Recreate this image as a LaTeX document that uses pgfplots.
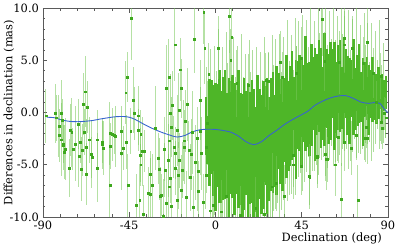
\documentclass[border=0pt]{standalone}
\usepackage{fontspec}
\setmainfont{DejaVu Serif}
\usepackage{pgfplots}
\pgfplotsset{compat=1.18}
\definecolor{barlt}{RGB}{120,200,90}
\definecolor{core}{RGB}{78,182,40}
\definecolor{dotc}{RGB}{62,168,30}
\definecolor{curve}{RGB}{55,100,205}
\definecolor{axgray}{RGB}{90,90,90}
\begin{document}
\fontsize{11.5}{13.5}\selectfont
\begin{tikzpicture}
\begin{axis}[
 width=347pt, height=210pt, scale only axis,
 xmin=-90, xmax=90, ymin=-10, ymax=10,
 xtick={-90,-45,0,45,90}, ytick={-10,-5,0,5,10},
 minor x tick num=4, minor y tick num=4,
 tick align=inside, tick pos=both,
 xticklabel pos=lower, yticklabel pos=left,
 major tick length=4.5pt, minor tick length=2.5pt,
 axis line style={axgray, line width=0.8pt},
 tick style={axgray, line width=0.6pt},
 /pgf/number format/assume math mode=true,
 yticklabel style={/pgf/number format/.cd, fixed, fixed zerofill, precision=1},
 xticklabel style={/pgf/number format/fixed},
 every axis y label/.style={at={(axis description cs:-0.125,0.5)}, rotate=90, anchor=north},
 every axis x label/.style={at={(axis description cs:1,0)}, anchor=north east, yshift=-12pt, xshift=-2pt},
 xlabel={Declination (deg)},
 ylabel={Differences in declination (mas)},
 error bars/y dir=both, error bars/y explicit,
 error bars/error mark=none,
]
% sparse points
\addplot[only marks, mark=square*, mark size=0.95pt, mark options={draw=dotc, fill=dotc},
 error bars/error bar style={line width=0.7pt, draw=barlt, opacity=0.55}]
 table[x=x, y=y, y error=e, row sep=\\] {
x y e \\
-88.5 -0.3 2.6 \\ -83.6 -0.1 2.8 \\ -83.1 -0.5 2.2 \\ -81.7 -1.3 3.0 \\ -81.4 -2.2 2.5 \\
-80.5 -0.1 3.2 \\ -80.1 -0.7 2.0 \\ -80.5 -2.6 3.5 \\ -79.6 -3.1 2.4 \\ -79.3 -3.0 1.8 \\
-78.8 -3.8 2.6 \\ -78.2 -3.5 3.0 \\ -76.2 -5.3 2.8 \\ -75.8 -1.7 2.5 \\ -75.0 -1.9 3.3 \\
-74.4 -3.5 2.0 \\ -73.1 -3.0 3.6 \\ -71.5 -1.1 2.4 \\ -71.3 -4.2 2.9 \\ -70.5 -2.8 2.0 \\
-70.1 -5.4 3.1 \\ -69.3 -3.6 2.5 \\ -68.9 0.8 3.0 \\ -68.4 -1.9 2.2 \\ -67.9 2.0 3.4 \\
-67.5 -3.3 2.7 \\ -67.5 -5.9 3.0 \\ -67.0 0.5 2.5 \\ -65.8 -2.6 2.2 \\ -64.9 -4.0 3.2 \\
-64.5 -4.3 2.0 \\ -61.5 -2.6 2.8 \\ -61.5 -5.3 3.3 \\ -59.2 -3.0 2.4 \\ -58.9 -2.8 2.0 \\
-58.6 -3.4 2.6 \\ -55.1 -2.0 3.0 \\ -55.1 -7.0 3.8 \\ -54.9 -3.2 2.2 \\ -53.7 -2.1 2.5 \\
-52.8 -2.2 1.8 \\ -52.3 -2.3 2.9 \\ -49.0 -1.8 2.4 \\ -49.0 -3.9 3.5 \\ -48.0 -3.4 2.1 \\
-46.8 1.9 3.0 \\ -46.4 -2.8 2.6 \\ -45.9 3.4 2.4 \\ -45.7 -7.0 3.0 \\ -44.2 -1.8 2.2 \\
-43.8 9.0 4.0 \\ -42.8 1.2 3.2 \\ -42.3 -0.1 2.5 \\ -41.4 -8.9 3.0 \\ -40.4 -0.3 2.8 \\
-40.2 -1.7 2.0 \\ -39.5 -8.4 3.5 \\ -39.3 -4.1 2.6 \\ -39.0 -2.1 2.3 \\ -39.0 -5.0 2.0 \\
-38.1 -3.7 3.3 \\ -37.6 -9.7 2.8 \\ -37.3 -3.7 2.0 \\ -35.0 -7.7 2.5 \\ -34.2 -7.8 3.4 \\
-33.8 -5.9 2.2 \\ -32.9 -7.0 3.0 \\ -31.5 -1.5 4.0 \\ -29.8 -4.4 2.4 \\ -29.5 -5.4 3.0 \\
-28.6 -8.0 2.8 \\ -28.1 -7.9 2.0 \\ -27.4 -9.9 3.5 \\ -26.4 -5.5 2.6 \\ -25.5 2.3 4.2 \\
-24.6 -4.6 3.5 \\ -24.3 3.4 3.6 \\ -24.3 -2.7 2.6 \\ -24.3 -7.1 3.1 \\ -23.4 -0.1 3.8 \\
-23.4 -6.3 2.4 \\ -23.1 -1.4 2.9 \\ -22.6 0.7 3.3 \\ -21.7 -3.3 3.0 \\ -21.2 6.5 3.5 \\
-20.8 -3.9 2.5 \\ -20.0 -1.7 3.4 \\ -20.0 -8.4 3.0 \\ -19.1 0.2 3.6 \\ -18.8 -4.6 2.6 \\
-18.3 4.1 3.0 \\ -18.0 2.3 2.8 \\ -17.7 -7.4 3.3 \\ -17.4 -5.5 2.7 \\ -16.5 -2.7 3.9 \\
-15.7 -0.8 3.0 \\ -14.8 0.8 3.5 \\ -13.9 -3.6 2.8 \\ -13.1 -6.2 3.2 \\ -12.2 -1.9 4.0 \\
-11.0 7.0 3.2 \\ -10.5 -4.8 3.6 \\ -9.6 -2.5 3.0 \\ -8.8 -7.5 2.9 \\ -8.0 1.2 3.8 \\
-7.2 -3.9 3.5 \\ -6.1 9.6 3.0 \\ -5.6 6.2 3.5 \\ -5.0 -6.0 3.2 \\ -4.2 -1.0 4.0 \\
-3.5 3.7 3.0 \\ -15.2 -8.1 2.5 \\ -11.5 -9.1 3.0 \\ -6.5 -8.6 2.7 \\ -2.8 -9.4 2.9 \\
-12.8 -4.0 3.4 \\ -9.2 -5.6 3.8 \\ -7.8 -1.8 4.2 \\ -4.8 -3.3 4.4 \\ -16.2 -3.3 3.5 \\
-19.5 -6.0 3.2 \\ -21.0 -5.3 2.6 \\ -25.8 -8.7 3.0 \\ -26.8 -3.5 3.1 \\ -23.0 -9.0 2.8 \\
};
% fringe of the dense region
\addplot[draw=none, mark=none,
 error bars/error bar style={line width=0.8pt, draw=barlt, opacity=0.6}]
 table[x=x, y=y, y error=e, row sep=\\] {
x y e \\
-4.5 -0.8 5.2 \\ -3.5 -2.8 4.0 \\ -2.5 -1.8 7.9 \\ -1.5 -3.5 6.6 \\ -0.5 -1.7 8.1 \\
0.5 -2.5 6.5 \\ 1.5 -1.6 9.6 \\ 2.5 -3.4 7.4 \\ 3.5 -2.4 8.7 \\ 4.5 -3.9 6.7 \\
5.5 -2.1 9.8 \\ 6.5 -2.8 7.5 \\ 7.5 -1.8 8.7 \\ 8.5 -3.6 6.7 \\ 9.5 -2.5 9.7 \\
10.5 -4.1 7.5 \\ 11.5 -2.3 8.7 \\ 12.5 -3.1 6.7 \\ 13.5 -2.2 9.7 \\ 14.5 -4.1 7.5 \\
15.5 -3.1 8.7 \\ 16.5 -4.6 6.7 \\ 17.5 -2.8 9.7 \\ 18.5 -3.6 7.5 \\ 19.5 -2.7 8.7 \\
20.5 -4.6 6.8 \\ 21.5 -3.4 9.7 \\ 22.5 -4.8 7.4 \\ 23.5 -2.8 8.6 \\ 24.5 -3.4 6.5 \\
25.5 -2.3 9.5 \\ 26.5 -3.9 7.2 \\ 27.5 -2.6 8.3 \\ 28.5 -3.9 6.3 \\ 29.5 -1.8 9.2 \\
30.5 -2.4 7.0 \\ 31.5 -1.1 8.1 \\ 32.5 -2.7 6.0 \\ 33.5 -1.4 8.9 \\ 34.5 -2.7 6.6 \\
35.5 -0.6 7.8 \\ 36.5 -1.1 5.7 \\ 37.5 0.2 8.7 \\ 38.5 -1.5 6.4 \\ 39.5 -0.2 7.6 \\
40.5 -1.5 5.6 \\ 41.5 0.6 8.5 \\ 42.5 0.1 6.3 \\ 43.5 1.3 7.5 \\ 44.5 -0.4 5.4 \\
45.5 0.9 8.4 \\ 46.5 -0.5 6.2 \\ 47.5 1.6 7.3 \\ 48.5 1.0 5.3 \\ 49.5 2.1 8.3 \\
50.5 0.5 6.1 \\ 51.5 1.6 7.2 \\ 52.5 0.2 5.2 \\ 53.5 2.2 8.2 \\ 54.5 1.6 6.0 \\
55.5 2.7 7.2 \\ 56.5 0.9 5.2 \\ 57.5 2.1 8.2 \\ 58.5 0.6 5.9 \\ 59.5 2.6 7.1 \\
60.5 1.9 5.1 \\ 61.5 2.9 8.0 \\ 62.5 1.1 5.8 \\ 63.5 2.3 6.9 \\ 64.5 0.8 4.9 \\
65.5 2.7 7.8 \\ 66.5 2.0 5.5 \\ 67.5 3.0 6.7 \\ 68.5 1.1 4.6 \\ 69.5 2.2 7.6 \\
70.5 0.7 5.3 \\ 71.5 2.6 6.4 \\ 72.5 1.9 4.4 \\ 73.5 2.9 7.3 \\ 74.5 1.1 5.0 \\
75.5 2.2 6.2 \\ 76.5 0.6 4.1 \\ 77.5 2.5 7.0 \\ 78.5 1.8 4.7 \\ 79.5 2.8 5.8 \\
80.5 1.0 3.8 \\ 81.5 2.0 6.6 \\ 82.5 0.5 4.3 \\ 83.5 2.4 5.4 \\ 84.5 1.7 3.3 \\
85.5 2.7 6.2 \\ 86.5 0.8 3.8 \\ 87.5 1.9 4.8 \\ 88.5 0.3 2.7 \\
};
% dense core
\addplot[draw=none, mark=none,
 error bars/error bar style={line width=2.6pt, draw=core}]
 table[x=x, y=y, y error=e, row sep=\\] {
x y e \\
-5 -1.3 2.8 \\ -4 -2.6 2.3 \\ -3 -1.9 5.1 \\ -2 -1.4 4.5 \\ -1 -2.7 5.3 \\
0 -3.3 6.1 \\ 1 -2.2 4.9 \\ 2 -2.3 6.4 \\ 3 -3.3 5.4 \\ 4 -2.5 5.9 \\
5 -2.1 6.2 \\ 6 -3.1 5.0 \\ 7 -3.6 6.9 \\ 8 -2.4 5.4 \\ 9 -2.3 5.9 \\
10 -3.5 6.3 \\ 11 -2.8 5.0 \\ 12 -2.5 6.6 \\ 13 -3.5 5.4 \\ 14 -4.1 5.9 \\
15 -3.0 6.3 \\ 16 -2.9 5.0 \\ 17 -4.1 6.9 \\ 18 -3.4 5.4 \\ 19 -2.8 5.9 \\
20 -4.1 6.4 \\ 21 -4.5 5.0 \\ 22 -3.2 6.8 \\ 23 -3.0 5.3 \\ 24 -4.0 5.7 \\
25 -3.1 6.1 \\ 26 -2.2 4.7 \\ 27 -3.2 6.5 \\ 28 -3.5 5.0 \\ 29 -2.1 5.4 \\
30 -1.9 5.8 \\ 31 -2.7 4.4 \\ 32 -1.7 6.2 \\ 33 -0.8 4.6 \\ 34 -1.8 5.0 \\
35 -2.1 5.4 \\ 36 -0.7 4.0 \\ 37 -0.4 5.9 \\ 38 -1.3 4.3 \\ 39 -0.3 4.8 \\
40 0.7 5.2 \\ 41 -0.4 3.8 \\ 42 -0.7 5.7 \\ 43 0.7 4.2 \\ 44 0.9 4.6 \\
45 0.0 5.0 \\ 46 0.9 3.7 \\ 47 1.8 5.5 \\ 48 0.7 4.0 \\ 49 0.3 4.5 \\
50 1.7 4.9 \\ 51 1.8 3.5 \\ 52 0.8 5.4 \\ 53 1.7 3.9 \\ 54 2.5 4.4 \\
55 1.4 4.8 \\ 56 0.9 3.5 \\ 57 2.2 5.4 \\ 58 2.3 3.8 \\ 59 1.3 4.3 \\
60 2.1 4.7 \\ 61 2.8 3.3 \\ 62 1.6 5.2 \\ 63 1.2 3.6 \\ 64 2.4 4.1 \\
65 2.5 4.4 \\ 66 1.4 3.0 \\ 67 2.2 4.9 \\ 68 2.8 3.3 \\ 69 1.6 3.8 \\
70 1.1 4.1 \\ 71 2.3 2.7 \\ 72 2.4 4.6 \\ 73 1.3 3.0 \\ 74 2.1 3.4 \\
75 2.8 3.8 \\ 76 1.5 2.4 \\ 77 1.0 4.2 \\ 78 2.2 2.6 \\ 79 2.3 3.0 \\
80 1.2 3.4 \\ 81 1.8 2.3 \\ 82 2.2 3.1 \\ 83 1.5 2.2 \\ 84 1.3 2.4 \\
85 1.9 2.5 \\ 86 1.9 1.6 \\ 87 1.3 2.4 \\ 88 1.6 1.5 \\ 89 1.9 1.6 \\
};
% outliers in the dense region
\addplot[only marks, mark=square*, mark size=0.95pt, mark options={draw=dotc, fill=dotc},
 error bars/error bar style={line width=0.7pt, draw=barlt, opacity=0.55}]
 table[x=x, y=y, y error=e, row sep=\\] {
x y e \\
1.6 6.2 3.0 \\ 7.4 9.2 3.5 \\ 8.5 7.2 3.8 \\ 8.0 5.0 3.0 \\ 11.1 2.8 3.2 \\
17.2 2.6 3.0 \\ 26.3 3.1 2.6 \\ 27.5 3.0 2.8 \\ 34.0 4.8 3.0 \\ 35.0 3.4 2.4 \\
42.3 3.8 2.6 \\ 44.9 5.2 3.0 \\ 55.7 8.9 3.5 \\ 57.0 4.9 2.8 \\ 64.7 4.8 3.0 \\
67.3 7.1 3.2 \\ 67.3 6.5 2.7 \\ 71.3 6.2 3.0 \\ 77.2 4.7 2.5 \\ 79.4 6.7 3.3 \\
82.4 3.8 2.4 \\ 86.3 3.5 2.2 \\ 25.3 -9.7 3.0 \\ 29.5 -7.1 3.2 \\ 31.9 -6.8 2.6 \\
40.5 -5.0 3.3 \\ 40.5 -4.1 2.4 \\ 44.9 -5.1 2.8 \\ 48.8 -6.1 3.1 \\ 49.2 -6.2 2.7 \\
53.0 -4.2 3.0 \\ 53.2 -4.3 2.5 \\ 57.5 -4.0 2.6 \\ 57.8 -4.5 2.9 \\ 58.2 -4.5 2.2 \\
62.5 -5.0 3.0 \\ 63.9 -2.4 2.4 \\ 65.6 -8.3 3.5 \\ 67.3 -2.8 2.8 \\ 70.8 -3.4 2.6 \\
73.4 -2.2 2.3 \\ 74.3 -8.4 3.4 \\ 78.2 -2.5 2.2 \\ 78.6 -1.4 2.0 \\ 79.4 -2.5 2.4 \\
83.8 1.0 2.0 \\ 86.3 -0.9 1.8 \\ 87.0 -1.5 2.0 \\ 88.0 -0.1 1.6 \\ 88.9 -0.5 1.9 \\
3.0 -9.5 3.0 \\ 13.0 -9.8 2.8 \\ -1.0 -8.9 3.3 \\ 5.5 -8.0 2.5 \\ 21.0 -9.2 3.0 \\
36.0 -8.0 3.0 \\
};
% smooth mean curve
\addplot[curve, line width=0.9pt, smooth, mark=none, forget plot] coordinates {
(-88,-0.45) (-84,-0.5) (-80,-0.72) (-76,-0.85) (-72,-0.88) (-68,-0.84) (-64,-0.76)
(-60,-0.62) (-56,-0.5) (-52,-0.4) (-48,-0.38) (-45,-0.45) (-42,-0.65) (-39,-0.95)
(-36,-1.25) (-32,-1.6) (-28,-1.9) (-24,-2.15) (-20,-2.35) (-16,-2.2) (-12,-1.85)
(-8,-1.65) (-4,-1.6) (0,-1.62) (4,-1.72) (8,-1.88) (12,-2.25) (16,-2.8) (20,-3.08)
(24,-2.8) (28,-2.2) (32,-1.7) (36,-1.15) (40,-0.7) (44,-0.3) (48,0.1) (52,0.7)
(56,1.1) (60,1.4) (64,1.58) (68,1.62) (72,1.35) (76,1.0) (80,0.88) (84,0.98)
(86,0.85) (88,0.35) (90,0.0)
};
\end{axis}
\path (current axis.north east) ++(7pt,7pt) node[inner sep=0pt]{};
\end{tikzpicture}
\end{document}
